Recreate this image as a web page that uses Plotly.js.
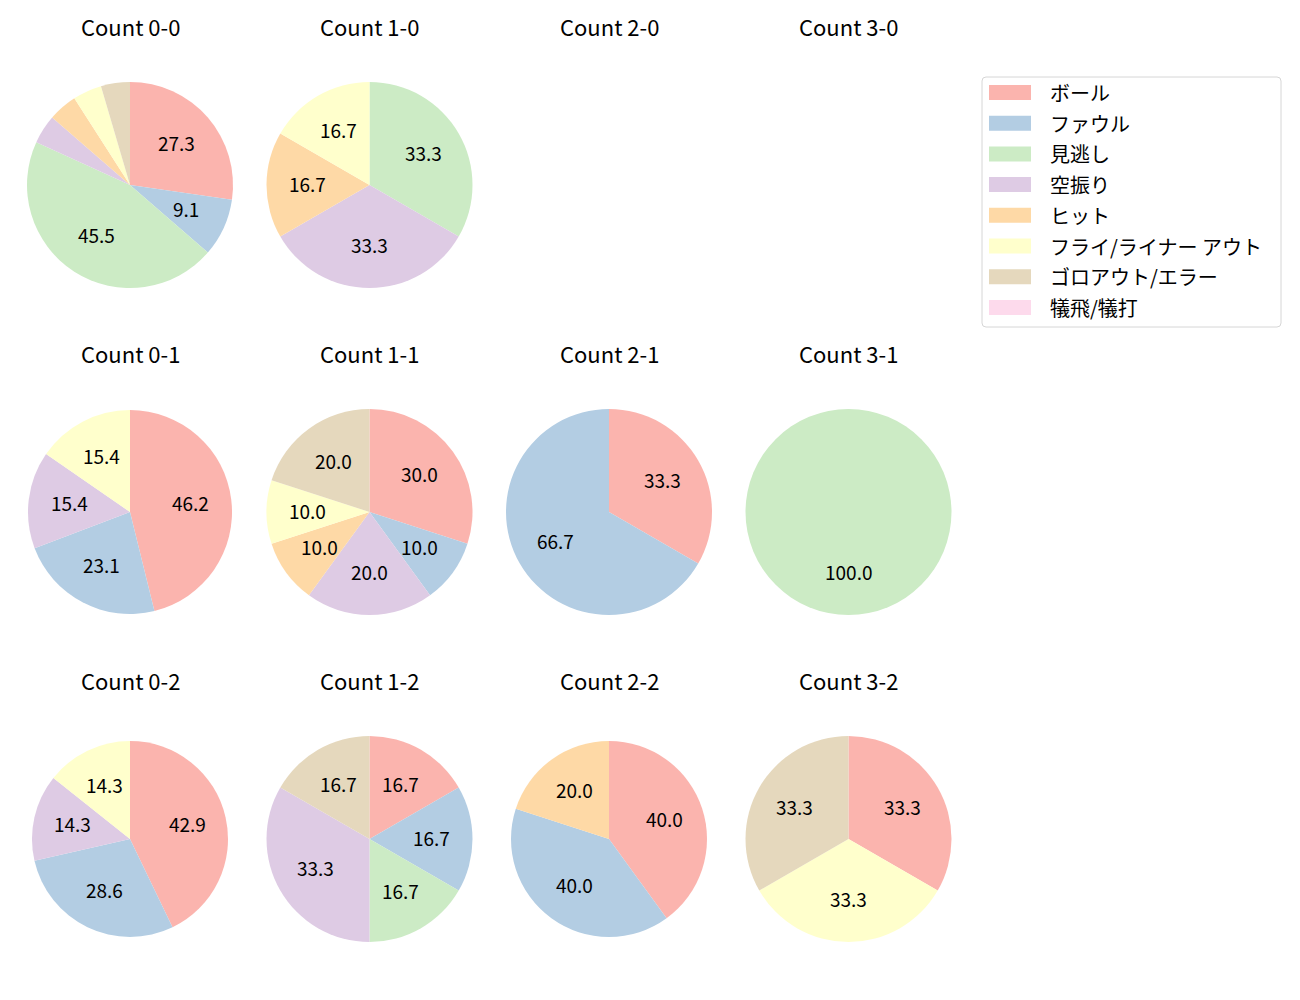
<!DOCTYPE html>
<html>
<head>
<meta charset="utf-8">
<script src="https://cdn.plot.ly/plotly-3.0.1.min.js"></script>
<style>body{margin:0;background:#fff}</style>
</head>
<body>
<div id="plot" style="width:1300px;height:1000px"></div>
<script>
// outcome categories and pastel colours
let labels = ['ボール', 'ファウル', '見逃し', '空振り', 'ヒット', 'フライ/ライナー アウト', 'ゴロアウト/エラー', '犠飛/犠打'];
let colors = ['#fbb4ae', '#b3cde3', '#ccebc5', '#decbe4', '#fed9a6', '#ffffcc', '#e5d8bd', '#fddaec'];

// ball-strike counts, in grid order
let counts = ['0-0', '1-0', '2-0', '3-0', '0-1', '1-1', '2-1', '3-1', '0-2', '1-2', '2-2', '3-2'];

// pitches per outcome for each count
let c00 = [6, 2, 10, 1, 1, 1, 1, 0];
let c10 = [0, 0, 2, 2, 1, 1, 0, 0];
let c20 = [0, 0, 0, 0, 0, 0, 0, 0];
let c30 = [0, 0, 0, 0, 0, 0, 0, 0];
let c01 = [6, 3, 0, 2, 0, 2, 0, 0];
let c11 = [3, 1, 0, 2, 1, 1, 2, 0];
let c21 = [1, 2, 0, 0, 0, 0, 0, 0];
let c31 = [0, 0, 1, 0, 0, 0, 0, 0];
let c02 = [3, 2, 0, 1, 0, 1, 0, 0];
let c12 = [1, 1, 1, 2, 0, 0, 1, 0];
let c22 = [2, 2, 0, 0, 1, 0, 0, 0];
let c32 = [1, 0, 0, 0, 0, 1, 1, 0];

let allvals = [c00, c10, c20, c30, c01, c11, c21, c31, c02, c12, c22, c32];

// grid geometry (pixels)
let W = 1300, H = 1000;
let colX = [130, 369.5, 609, 848.5];
let rowY = [185, 512, 839];
let titleY = [28, 355, 682];
let radius = [103, 103, 103, 103, 102, 103, 103, 103, 98, 103, 98, 103];
let FONT = 'Noto Sans CJK JP';
let TXT_SHIFT = 2; // plotly centres text a bit low

function px(x) { return x / W; }
function py(y) { return 1 - y / H; }
function ty(y) { return 1 - (y - TXT_SHIFT) / H; }

let data = [];
let annotations = [];
let shapes = [];

for (let i = 0; i < counts.length; i++) {
    let col = i % 4;
    let row = Math.floor(i / 4);
    let cx = colX[col], cy = rowY[row], r = radius[i];
    let vals = allvals[i];

    annotations.push({
        text: 'Count ' + counts[i], x: px(cx), y: ty(titleY[row]),
        xref: 'paper', yref: 'paper', showarrow: false,
        xanchor: 'center', yanchor: 'middle',
        font: {family: FONT, size: 22, color: '#000'}
    });

    let total = vals.reduce((a, b) => a + b, 0);
    if (total == 0) continue;

    data.push({
        type: 'pie',
        values: vals,
        labels: labels,
        marker: {colors: colors, line: {width: 0}},
        sort: false,
        direction: 'clockwise',
        rotation: 0,
        textinfo: 'none',
        hoverinfo: 'skip',
        showlegend: false,
        domain: {x: [px(cx - r), px(cx + r)], y: [py(cy + r), py(cy - r)]}
    });

    // percent labels at 0.6 of the radius, like autopct
    let cum = 0;
    for (let k = 0; k < vals.length; k++) {
        let p = vals[k] / total * 100;
        let mid = (cum + vals[k] / 2) / total * 2 * Math.PI;
        cum += vals[k];
        if (p < 5) continue;
        annotations.push({
            text: p.toFixed(1),
            x: px(cx + 0.6 * r * Math.sin(mid)), y: ty(cy - 0.6 * r * Math.cos(mid)),
            xref: 'paper', yref: 'paper', showarrow: false,
            xanchor: 'center', yanchor: 'middle',
            font: {family: FONT, size: 19, color: '#000'}
        });
    }
}

// legend box
let lx0 = 982, lx1 = 1281, ly0 = 77, ly1 = 327, rr = 4;
let path = 'M' + px(lx0 + rr) + ',' + py(ly0) +
    ' L' + px(lx1 - rr) + ',' + py(ly0) +
    ' Q' + px(lx1) + ',' + py(ly0) + ' ' + px(lx1) + ',' + py(ly0 + rr) +
    ' L' + px(lx1) + ',' + py(ly1 - rr) +
    ' Q' + px(lx1) + ',' + py(ly1) + ' ' + px(lx1 - rr) + ',' + py(ly1) +
    ' L' + px(lx0 + rr) + ',' + py(ly1) +
    ' Q' + px(lx0) + ',' + py(ly1) + ' ' + px(lx0) + ',' + py(ly1 - rr) +
    ' L' + px(lx0) + ',' + py(ly0 + rr) +
    ' Q' + px(lx0) + ',' + py(ly0) + ' ' + px(lx0 + rr) + ',' + py(ly0) + ' Z';
shapes.push({type: 'path', path: path, xref: 'paper', yref: 'paper',
    fillcolor: 'rgba(255,255,255,0.8)', line: {color: '#d6d6d6', width: 1}});

for (let k = 0; k < labels.length; k++) {
    let yc = 92.5 + k * 30.7;
    shapes.push({type: 'rect', xref: 'paper', yref: 'paper',
        x0: px(989), x1: px(1031), y0: py(yc - 7.5), y1: py(yc + 7.5),
        fillcolor: colors[k], line: {width: 0}});
    annotations.push({
        text: labels[k], x: px(1048), y: py(yc),
        xref: 'paper', yref: 'paper', showarrow: false,
        xanchor: 'left', yanchor: 'middle',
        font: {family: FONT, size: 20, color: '#000'}
    });
}

let layout = {
    width: W, height: H,
    margin: {l: 0, r: 0, t: 0, b: 0},
    paper_bgcolor: '#fff',
    showlegend: false,
    annotations: annotations,
    shapes: shapes
};

Plotly.newPlot('plot', data, layout, {staticPlot: true});
</script>
</body>
</html>
